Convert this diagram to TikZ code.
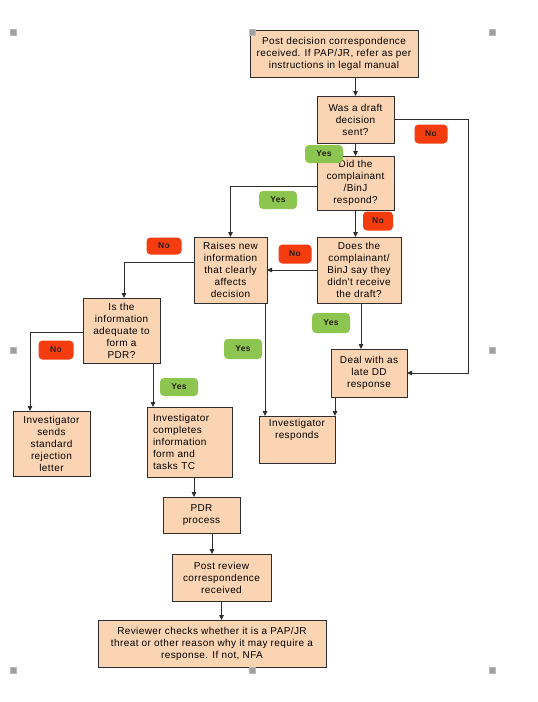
\documentclass[tikz,border=0pt]{standalone}
\usepackage{fontspec}
\setmainfont{Liberation Sans}
\newfontfamily\boxfont[LetterSpace=4]{Liberation Sans}
\usetikzlibrary{arrows.meta}
\definecolor{peach}{RGB}{251,212,180}
\definecolor{edge}{RGB}{45,45,45}
\definecolor{yesgreen}{RGB}{140,198,80}
\definecolor{nored}{RGB}{245,60,15}
\definecolor{labtext}{RGB}{40,30,20}
\tikzset{
  box/.style={draw=edge, line width=0.8pt, fill=peach, anchor=north west, outer sep=0pt, inner sep=1pt,
    align=center, font=\boxfont\fontsize{10}{12}\selectfont},
  arr/.style={draw=edge, line width=0.8pt, -{Triangle[length=5pt,width=4.5pt]}},
  yeslab/.style={fill=yesgreen, rounded corners=4pt, minimum width=38pt, minimum height=18pt, inner sep=0pt,
    font=\boxfont\fontsize{8.5}{10}\selectfont\bfseries, text=labtext},
  nolab/.style={fill=nored, rounded corners=4pt, minimum width=33pt, minimum height=19pt, inner sep=0pt,
    font=\boxfont\fontsize{8.5}{10}\selectfont\bfseries, text=labtext},
  handle/.style={rectangle, fill=gray!75, draw=gray!55, line width=0.4pt, minimum size=6pt, inner sep=0pt}
}
\begin{document}
\begin{tikzpicture}[x=1pt,y=-1pt]
\useasboundingbox[fill=white] (0,0) rectangle (538,702);
% boxes
\node[box, minimum width=168pt, minimum height=47pt] (b1) at (250,30)
  {Post decision correspondence\\received. If PAP/JR, refer as per\\instructions in legal manual};
\node[box, minimum width=77pt, minimum height=47pt] (b2) at (317,96)
  {Was a draft\\decision\\sent?};
\node[box, minimum width=77pt, minimum height=54pt] (b3) at (317,156)
  {Did the\\complainant\\/BinJ\\respond?};
\node[box, minimum width=84pt, minimum height=66pt] (b4) at (317,237)
  {Does the\\complainant/\\BinJ say they\\didn't receive\\the draft?};
\node[box, minimum width=73pt, minimum height=66pt] (b5) at (194,237)
  {Raises new\\information\\that clearly\\affects\\decision};
\node[box, minimum width=76pt, minimum height=48pt] (b6) at (331,349)
  {Deal with as\\late DD\\response};
\node[box, minimum width=76pt, minimum height=47pt] (b7) at (259,416)
  {Investigator\\responds\\[10pt]};
\node[box, minimum width=77pt, minimum height=65pt] (b8) at (83,298)
  {Is the\\information\\adequate to\\form a\\PDR?};
\node[box, minimum width=77pt, minimum height=65pt] (b9) at (13,411)
  {Investigator\\sends\\standard\\rejection\\letter};
\node[box, minimum width=85pt, minimum height=70pt, align=left, text width=73pt, inner xsep=6pt] (b10) at (147,407)
  {Investigator\\completes\\information\\form and\\tasks TC};
\node[box, minimum width=77pt, minimum height=36pt] (b11) at (163,497)
  {PDR\\process};
\node[box, minimum width=99pt, minimum height=47pt] (b12) at (172,554)
  {Post review\\correspondence\\received};
\node[box, minimum width=228pt, minimum height=47pt] (b13) at (98,620)
  {Reviewer checks whether it is a PAP/JR\\threat or other reason why it may require a\\response. If not, NFA};
% helper coordinate for the right-hand return line
\coordinate (rc) at (468,0);
% connectors
\draw[arr] (b2.north |- b1.south) -- (b2.north);
\draw[arr] (b2.south) -- (b2.south |- b3.north);
\draw[arr] (b3.south) -- (b3.south |- b4.north);
\draw[arr] ([yshift=-3pt]b3.west) -| (b5.north);
\draw[arr] (b4.west) -- (b5.east);
\draw[arr] (b2.east) -- (b2.east -| rc) -- (rc |- b6.east) -- (b6.east);
\draw[arr] ([xshift=-8pt]b6.north |- b4.south) -- ([xshift=-8pt]b6.north);
\draw[arr] ([xshift=-2pt]b5.south east) -- ([xshift=-2pt]b5.south east |- b7.north);
\draw[arr] (b7.north east |- b6.south) -- (b7.north east);
\draw[arr] ([yshift=8pt]b5.west) -| ([xshift=2.5pt]b8.north);
\draw[arr] ([yshift=-1.5pt]b8.west) -| ([xshift=17pt]b9.north west);
\draw[arr] ([xshift=6pt]b10.north west |- b8.south) -- ([xshift=6pt]b10.north west);
\draw[arr] ([xshift=31pt]b11.north west |- b10.south) -- ([xshift=31pt]b11.north west);
\draw[arr] ([xshift=40pt]b12.north west |- b11.south) -- ([xshift=40pt]b12.north west);
\draw[arr] (b12.south) -- (b12.south |- b13.north);
% labels
\node[yeslab] (y1) at (324,154) {Yes};
\node[nolab] (n1) at (431,134) {No};
\node[yeslab] (y2) at (278,200) {Yes};
\node[nolab, minimum width=30pt] (n2) at (378,221) {No};
\node[nolab] (n3) at (295,254) {No};
\node[nolab, minimum width=35pt, minimum height=17pt] (n4) at (164,246) {No};
\node[yeslab, minimum height=20pt] (y3) at (331,323) {Yes};
\node[yeslab, minimum height=20pt] (y4) at (243,349) {Yes};
\node[nolab, minimum width=35pt] (n5) at (56,350) {No};
\node[yeslab] (y5) at (179,387) {Yes};
% selection handles
\node[handle] (h1) at (13,32) {};
\node[handle] (h2) at (252,32) {};
\node[handle] (h3) at (492,32) {};
\node[handle] (h4) at (13,350) {};
\node[handle] (h5) at (492,350) {};
\node[handle] (h6) at (13,670) {};
\node[handle] (h7) at (252,670) {};
\node[handle] (h8) at (492,670) {};
\end{tikzpicture}
\end{document}
